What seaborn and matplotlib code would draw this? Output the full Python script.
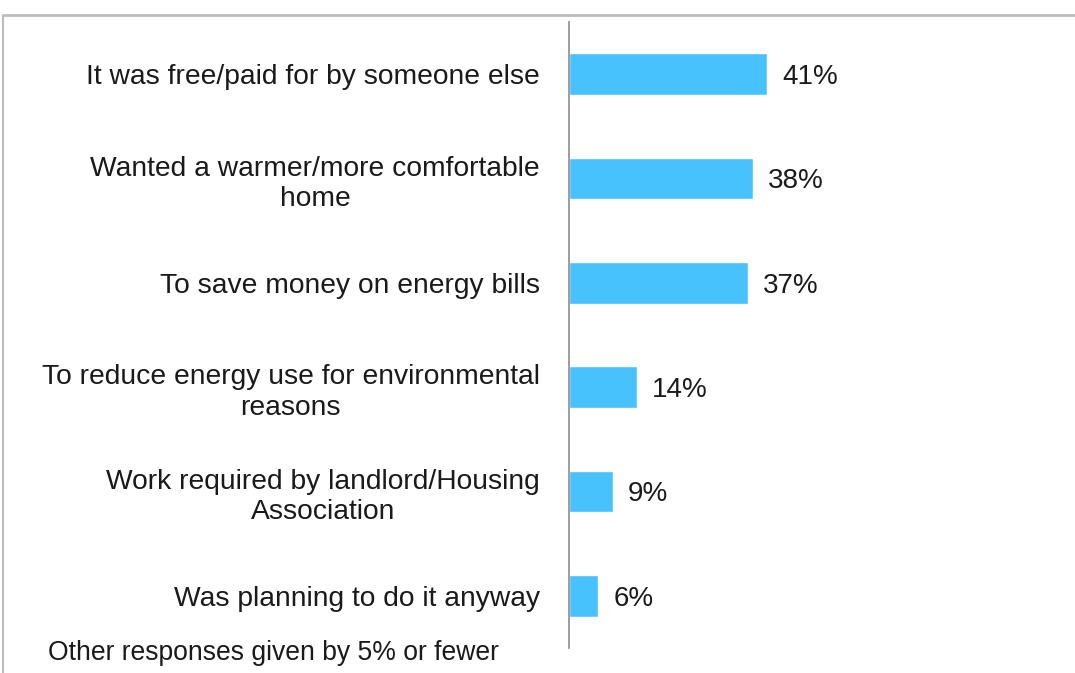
import matplotlib
matplotlib.use("Agg")
import matplotlib.pyplot as plt
from matplotlib.lines import Line2D
import seaborn as sns
import pandas as pd

reasons = [
    "It was free/paid for by someone else",
    "Wanted a warmer/more comfortable\nhome",
    "To save money on energy bills",
    "To reduce energy use for environmental\nreasons",
    "Work required by landlord/Housing\nAssociation",
    "Was planning to do it anyway",
]
shares = [41, 38, 37, 14, 9, 6]
footnote = "Other responses given by 5% or fewer"

sns.set_style("white")
plt.rcParams["font.family"] = ["Liberation Sans", "DejaVu Sans"]

df = pd.DataFrame({"reason": reasons, "share": shares})

fig = plt.figure(figsize=(10.75, 6.73), dpi=100)
ax = fig.add_axes([569 / 1075, 1 - 648 / 673, 484 / 1075, 626 / 673])

sns.barplot(data=df, x="share", y="reason", orient="h", color="#47C2FD",
            saturation=1, width=0.4, ax=ax)

ax.set_xlim(0, 100)
ax.set_ylim(len(reasons) - 0.5, -0.5)
ax.set_xlabel("")
ax.set_ylabel("")
ax.set_xticks([])
for side in ["top", "right", "bottom"]:
    ax.spines[side].set_visible(False)
ax.spines["left"].set_color("#8C8C8C")
ax.spines["left"].set_linewidth(1.2)

ax.tick_params(axis="y", length=0, pad=21, labelsize=20.3, labelcolor="#1A1A1A")
for lab in ax.get_yticklabels():
    lab.set_multialignment("center")
    lab.set_linespacing(1.22)

for i, v in enumerate(shares):
    ax.annotate(f"{v}%", xy=(v, i), xytext=(11, -2), textcoords="offset points",
                ha="left", va="center", fontsize=20, color="#1A1A1A")

fig.text(48 / 1075, 1 - 653 / 673, footnote, ha="left", va="center",
         fontsize=19.1, color="#1A1A1A")

# frame lines along the top and left edges
fig.add_artist(Line2D([3 / 1075, 1], [1 - 15 / 673, 1 - 15 / 673],
                      transform=fig.transFigure, color="#BDBDBD", lw=2))
fig.add_artist(Line2D([3 / 1075, 3 / 1075], [0, 1 - 15 / 673],
                      transform=fig.transFigure, color="#BDBDBD", lw=1.5))

fig.savefig("out.png", dpi=100, facecolor="white")
